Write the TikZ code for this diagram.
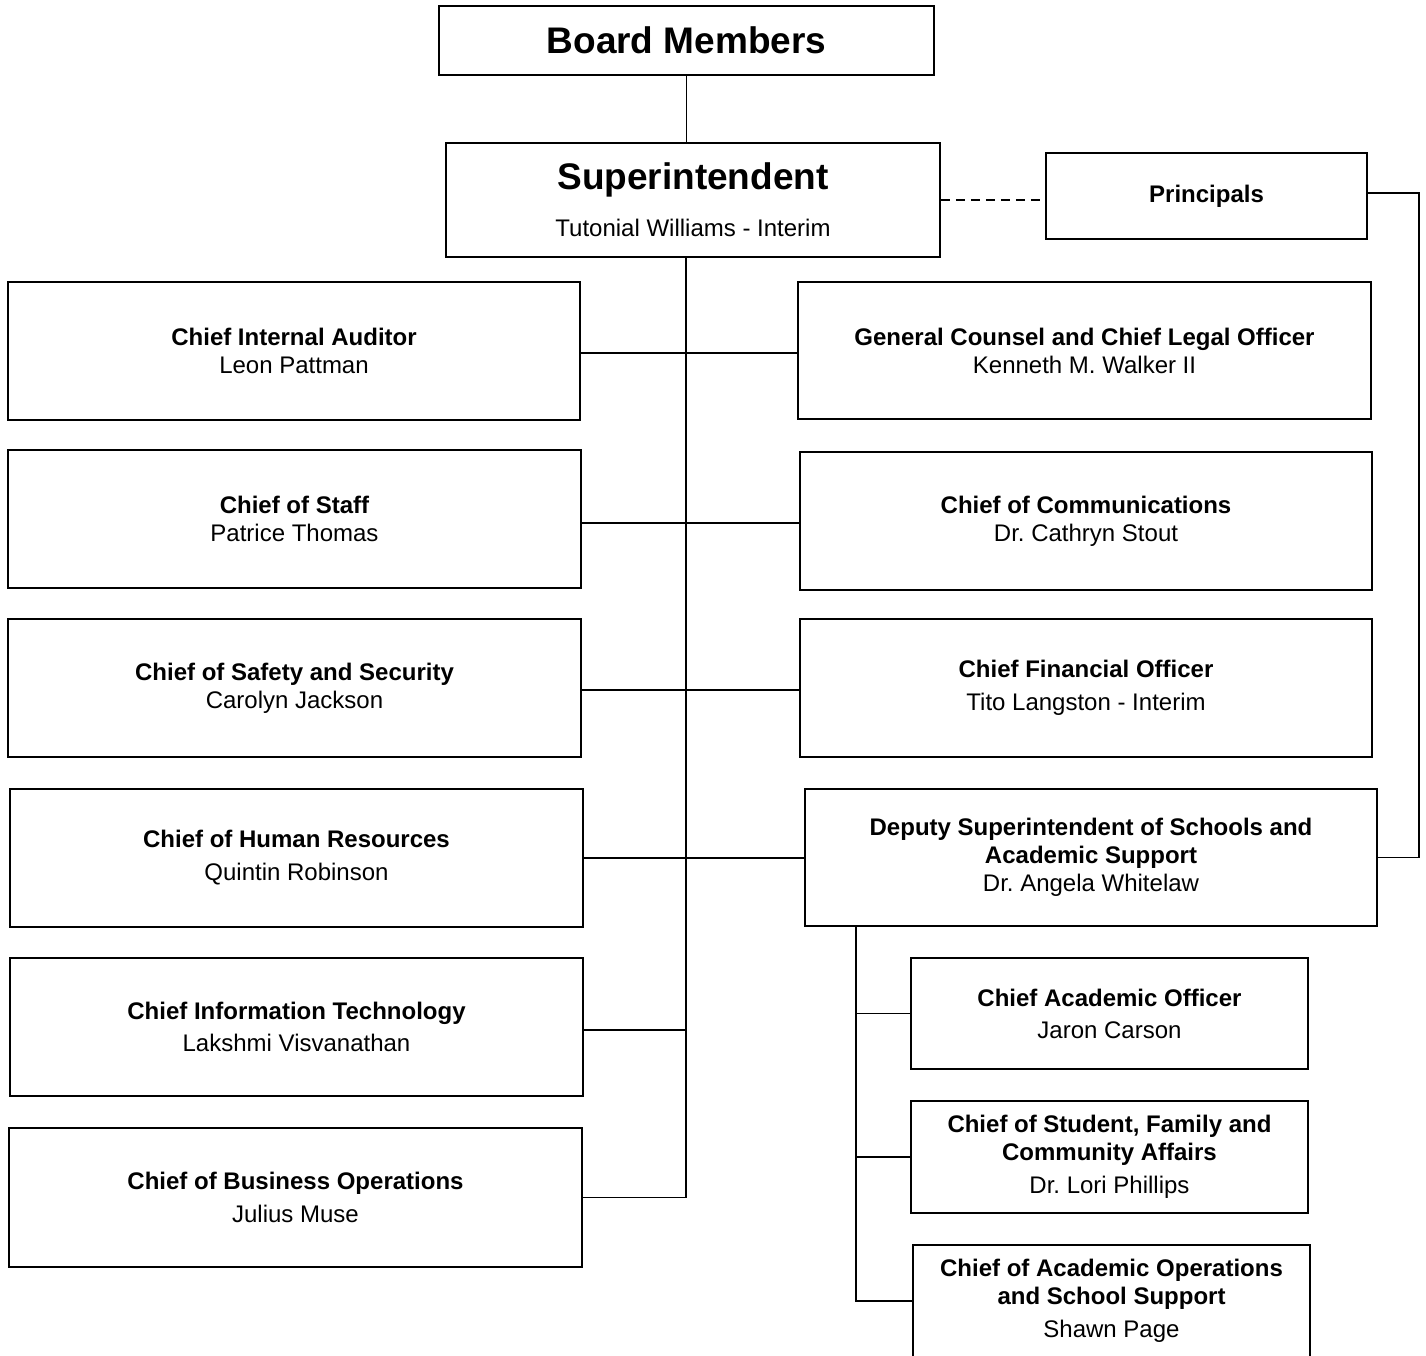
\documentclass[tikz,border=0pt]{standalone}
\usepackage{fontspec}
\setmainfont{Liberation Sans}
\begin{document}
\frenchspacing
\begin{tikzpicture}[x=1pt,y=-1pt]
\tikzset{
  orgbox/.style={draw, line width=1.6pt, rectangle, inner sep=0pt, align=center,
                 font=\fontsize{24}{28}\selectfont},
  link/.style={line width=1.6pt},
  dashlink/.style={line width=1.4pt, dash pattern=on 9pt off 6pt},
}
\useasboundingbox (0,0) rectangle (1426,1355);
% top
\node[orgbox, minimum width=495, minimum height=69, font=\fontsize{37}{40}\selectfont\bfseries] (board) at (686.5,40.5) {Board Members};
\node[orgbox, minimum width=494, minimum height=114] (super) at (693,200)
  {{\fontsize{37}{40}\selectfont\bfseries Superintendent}\\[19pt]Tutonial Williams - Interim};
\node[orgbox, minimum width=321, minimum height=86] (princ) at (1206.5,196) {\bfseries Principals};
% left column
\node[orgbox, minimum width=572, minimum height=138] (cia) at (294,351)
  {\textbf{Chief Internal Auditor}\\Leon Pattman};
\node[orgbox, minimum width=573, minimum height=138] (staff) at (294.5,519)
  {\textbf{Chief of Staff}\\Patrice Thomas};
\node[orgbox, minimum width=573, minimum height=138] (safety) at (294.5,688)
  {\textbf{Chief of Safety and Security}\\Carolyn Jackson};
\node[orgbox, minimum width=573, minimum height=138] (hr) at (296.5,858)
  {\textbf{Chief of Human Resources}\\[5pt]Quintin Robinson};
\node[orgbox, minimum width=573, minimum height=138] (it) at (296.5,1027)
  {\textbf{Chief Information Technology}\\[4pt]Lakshmi Visvanathan};
\node[orgbox, minimum width=573, minimum height=139] (bus) at (295.5,1197.5)
  {\textbf{Chief of Business Operations}\\[5pt]Julius Muse};
% right column
\node[orgbox, minimum width=573, minimum height=137] (gc) at (1084.5,350.5)
  {\textbf{General Counsel and Chief Legal Officer}\\Kenneth M. Walker II};
\node[orgbox, minimum width=572, minimum height=138] (comm) at (1086,521)
  {\textbf{Chief of Communications}\\Dr. Cathryn Stout};
\node[orgbox, minimum width=572, minimum height=138] (cfo) at (1086,688)
  {\textbf{Chief Financial Officer}\\[5pt]Tito Langston - Interim};
\node[orgbox, minimum width=572, minimum height=137] (dep) at (1091,857.5)
  {\textbf{Deputy Superintendent of Schools and}\\\textbf{Academic Support}\\Dr. Angela Whitelaw};
% deputy subtree
\node[orgbox, minimum width=397, minimum height=111] (cao) at (1109.5,1013.5)
  {\textbf{Chief Academic Officer}\\[4pt]Jaron Carson};
\node[orgbox, minimum width=397, minimum height=112] (sfca) at (1109.5,1157)
  {\textbf{Chief of Student, Family and}\\\textbf{Community Affairs}\\[5pt]Dr. Lori Phillips};
\node[orgbox, minimum width=397, minimum height=112] (aoss) at (1111.5,1301)
  {\textbf{Chief of Academic Operations}\\\textbf{and School Support}\\[5pt]Shawn Page};
% coordinates
\coordinate (trunk) at (686,257);
\coordinate (rail) at (1419,0);
\coordinate (dtop) at (856,926);
% connectors
\draw[link] (board.south) -- (board.south |- super.north);
\draw[link] (trunk) |- (bus.east);
\draw[link] ([yshift=-2pt]cia.east) -- ([yshift=-2pt]cia.east -| gc.west);
\draw[link] ([yshift=-4pt]staff.east) -- ([yshift=-4pt]staff.east -| comm.west);
\draw[link] ([yshift=-2pt]safety.east) -- ([yshift=-2pt]safety.east -| cfo.west);
\draw[link] (hr.east) -- (hr.east -| dep.west);
\draw[link] ([yshift=-3pt]it.east) -- ([yshift=-3pt]it.east -| trunk);
\draw[dashlink] (super.east) -- (super.east -| princ.west);
\draw[link] ([yshift=3pt]princ.east) -- ([yshift=3pt]princ.east -| rail) |- (dep.east);
\draw[link] (dtop) |- (aoss.west);
\draw[link] (dtop |- cao.west) -- (cao.west);
\draw[link] (dtop |- sfca.west) -- (sfca.west);
\end{tikzpicture}
\end{document}
